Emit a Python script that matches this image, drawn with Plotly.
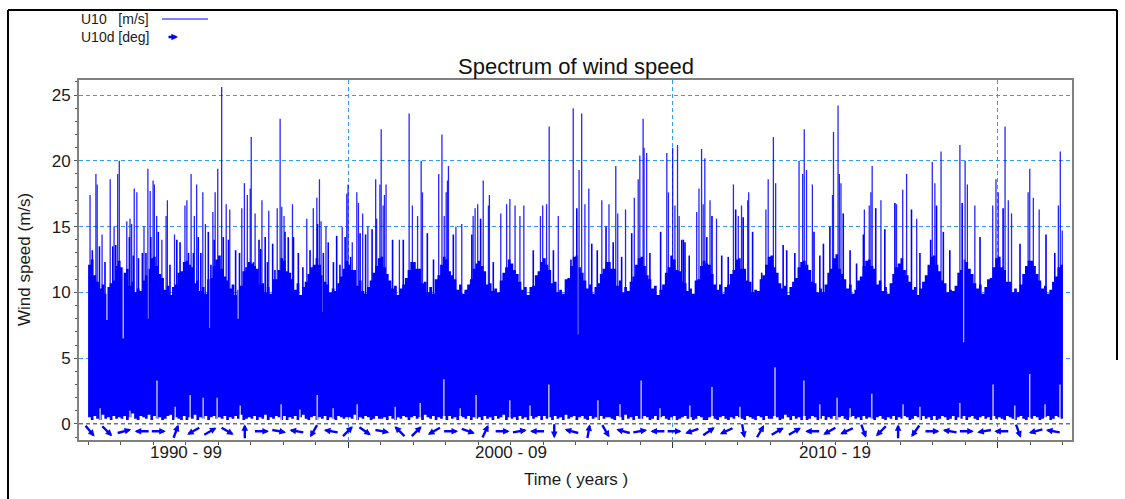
import numpy as np
import plotly.graph_objects as go

# ---------------- data ----------------
years = list(range(1992, 2022))

# upper level of the dense hourly U10 band, per month (Jan..Dec), m/s
u10_band_top = [
    [12.1, 12.5, 11.3, 10.8, 10.3, 10.6, 9.9, 10.4, 10.7, 10.9, 12.0, 12.4],  # 1992
    [11.9, 11.5, 11.8, 10.5, 10.8, 10.0, 10.3, 10.1, 10.9, 11.3, 11.8, 12.6],  # 1993
    [12.7, 12.0, 11.4, 11.1, 10.2, 10.5, 9.8, 10.4, 10.6, 11.5, 11.6, 12.3],   # 1994
    [12.4, 12.1, 11.9, 10.7, 10.9, 10.1, 10.4, 9.9, 11.0, 11.1, 12.0, 12.5],   # 1995
    [12.8, 11.8, 11.2, 10.9, 10.3, 10.6, 9.8, 10.2, 10.5, 11.6, 11.9, 12.3],   # 1996
    [12.2, 12.0, 11.8, 10.6, 10.7, 10.0, 10.4, 9.9, 11.0, 11.0, 11.7, 12.6],   # 1997
    [12.4, 11.6, 11.5, 11.0, 10.2, 10.7, 9.8, 10.4, 10.8, 11.4, 11.9, 12.1],   # 1998
    [12.6, 12.1, 11.3, 10.8, 10.6, 10.0, 10.3, 10.1, 10.7, 11.2, 11.8, 12.4],  # 1999
    [12.1, 11.7, 11.7, 10.5, 10.9, 10.1, 9.9, 10.4, 10.9, 11.5, 12.0, 12.6],   # 2000
    [12.7, 11.9, 11.4, 10.9, 10.3, 10.5, 9.8, 10.3, 10.6, 11.1, 11.7, 12.3],   # 2001
    [12.3, 11.8, 11.8, 10.7, 10.8, 10.0, 10.4, 9.9, 11.0, 11.3, 12.1, 12.7],   # 2002
    [12.5, 11.6, 11.3, 11.0, 10.2, 10.6, 9.9, 10.2, 10.6, 11.0, 11.8, 12.2],   # 2003
    [12.4, 12.0, 11.6, 10.6, 10.7, 10.1, 10.3, 10.0, 10.9, 11.5, 11.9, 12.5],  # 2004
    [12.2, 11.7, 11.4, 10.8, 10.2, 10.4, 9.8, 10.4, 10.5, 11.3, 11.6, 12.3],   # 2005
    [12.6, 12.1, 11.7, 10.7, 10.8, 10.0, 10.2, 9.9, 11.0, 11.1, 12.0, 12.7],   # 2006
    [12.8, 11.9, 11.5, 10.9, 10.3, 10.6, 9.9, 10.4, 10.7, 11.4, 11.8, 12.3],   # 2007
    [12.3, 11.8, 11.8, 10.5, 10.9, 10.0, 10.4, 10.1, 10.8, 11.2, 12.1, 12.6],  # 2008
    [12.7, 12.0, 11.3, 11.0, 10.3, 10.5, 9.8, 10.2, 10.6, 11.5, 11.9, 12.8],   # 2009
    [12.5, 11.7, 11.6, 10.8, 10.7, 10.1, 10.3, 9.9, 10.9, 11.0, 12.0, 12.4],   # 2010
    [12.2, 12.1, 11.4, 10.6, 10.2, 10.6, 9.9, 10.4, 10.6, 11.4, 11.7, 12.5],   # 2011
    [12.6, 11.8, 11.8, 10.9, 10.8, 10.0, 10.2, 10.1, 11.0, 11.3, 12.1, 12.7],  # 2012
    [12.8, 11.9, 11.5, 10.7, 10.3, 10.5, 9.8, 10.4, 10.8, 11.1, 11.9, 12.3],   # 2013
    [12.4, 12.1, 11.7, 10.8, 10.7, 10.0, 10.3, 10.0, 10.6, 11.5, 11.8, 12.6],  # 2014
    [12.9, 11.8, 11.4, 11.0, 10.3, 10.6, 9.9, 10.2, 10.9, 11.2, 12.0, 12.4],   # 2015
    [12.5, 12.0, 11.8, 10.6, 10.9, 10.1, 10.4, 9.9, 10.7, 11.4, 11.9, 12.2],   # 2016
    [12.6, 11.7, 11.3, 10.8, 10.2, 10.4, 9.8, 10.3, 10.8, 11.3, 12.1, 12.7],   # 2017
    [12.8, 12.1, 11.6, 10.9, 10.7, 10.0, 10.2, 10.1, 10.5, 11.5, 11.7, 12.5],  # 2018
    [12.3, 11.8, 11.4, 10.7, 10.3, 10.6, 9.9, 10.4, 11.0, 11.1, 11.9, 12.6],   # 2019
    [12.7, 11.9, 11.7, 10.8, 10.8, 10.0, 10.3, 10.0, 10.6, 11.4, 12.0, 12.4],  # 2020
    [12.4, 12.0, 11.4, 10.9, 10.3, 10.5, 9.9, 10.2, 10.8, 11.2, 11.9, 12.1],   # 2021
]

# lower level of the band (calmest hours), per month, m/s
u10_band_low = [
    [0.5, 0.3, 0.6, 0.4, 0.3, 0.7, 0.4, 0.5, 0.3, 0.6, 0.4, 0.5],
    [0.4, 0.6, 0.3, 0.5, 0.8, 0.4, 0.3, 0.6, 0.5, 0.4, 0.7, 0.3],
    [0.6, 0.4, 0.5, 0.3, 0.4, 0.6, 0.7, 0.3, 0.5, 0.4, 0.3, 0.6],
    [0.3, 0.5, 0.4, 0.7, 0.3, 0.5, 0.4, 0.6, 0.3, 0.5, 0.6, 0.4],
    [0.5, 0.4, 0.6, 0.3, 0.5, 0.4, 0.6, 0.4, 0.7, 0.3, 0.4, 0.5],
    [0.4, 0.6, 0.3, 0.5, 0.4, 0.7, 0.3, 0.5, 0.4, 0.6, 0.5, 0.3],
    [0.6, 0.3, 0.5, 0.4, 0.6, 0.3, 0.5, 0.7, 0.4, 0.3, 0.5, 0.6],
    [0.3, 0.5, 0.4, 0.6, 0.3, 0.5, 0.4, 0.3, 0.6, 0.5, 0.4, 0.5],
    [0.5, 0.4, 0.7, 0.3, 0.5, 0.4, 0.6, 0.5, 0.3, 0.4, 0.6, 0.4],
    [0.4, 0.5, 0.3, 0.6, 0.4, 0.3, 0.5, 0.4, 0.6, 0.5, 0.3, 0.5],
    [0.6, 0.4, 0.5, 0.3, 0.7, 0.5, 0.4, 0.6, 0.3, 0.5, 0.4, 0.6],
    [0.3, 0.6, 0.4, 0.5, 0.3, 0.6, 0.5, 0.4, 0.6, 0.3, 0.5, 0.4],
    [0.5, 0.3, 0.6, 0.4, 0.5, 0.3, 0.6, 0.4, 0.5, 0.7, 0.3, 0.5],
    [0.4, 0.5, 0.3, 0.6, 0.4, 0.5, 0.3, 0.6, 0.4, 0.5, 0.6, 0.3],
    [0.6, 0.4, 0.5, 0.3, 0.6, 0.4, 0.5, 0.3, 0.7, 0.4, 0.5, 0.6],
    [0.3, 0.5, 0.6, 0.4, 0.3, 0.6, 0.4, 0.5, 0.3, 0.6, 0.4, 0.5],
    [0.5, 0.4, 0.3, 0.6, 0.5, 0.3, 0.7, 0.4, 0.5, 0.3, 0.6, 0.4],
    [0.4, 0.6, 0.5, 0.3, 0.4, 0.6, 0.3, 0.5, 0.6, 0.4, 0.3, 0.5],
    [0.6, 0.3, 0.4, 0.5, 0.6, 0.4, 0.5, 0.3, 0.4, 0.6, 0.5, 0.3],
    [0.3, 0.5, 0.6, 0.4, 0.3, 0.5, 0.6, 0.4, 0.3, 0.5, 0.4, 0.6],
    [0.5, 0.4, 0.3, 0.6, 0.5, 0.4, 0.3, 0.6, 0.5, 0.3, 0.6, 0.4],
    [0.4, 0.6, 0.5, 0.3, 0.4, 0.7, 0.5, 0.3, 0.6, 0.4, 0.5, 0.3],
    [0.6, 0.3, 0.4, 0.6, 0.5, 0.3, 0.4, 0.6, 0.3, 0.5, 0.4, 0.6],
    [0.3, 0.5, 0.6, 0.4, 0.3, 0.5, 0.6, 0.4, 0.5, 0.3, 0.6, 0.4],
    [0.5, 0.4, 0.3, 0.5, 0.6, 0.4, 0.3, 0.5, 0.4, 0.6, 0.3, 0.5],
    [0.4, 0.6, 0.5, 0.3, 0.4, 0.6, 0.5, 0.3, 0.6, 0.4, 0.5, 0.3],
    [0.6, 0.3, 0.4, 0.6, 0.5, 0.3, 0.4, 0.6, 0.3, 0.5, 0.4, 0.6],
    [0.3, 0.5, 0.6, 0.4, 0.3, 0.5, 0.6, 0.4, 0.5, 0.3, 0.6, 0.4],
    [0.5, 0.4, 0.3, 0.6, 0.5, 0.4, 0.3, 0.5, 0.6, 0.4, 0.3, 0.5],
    [0.4, 0.6, 0.5, 0.3, 0.4, 0.5, 0.6, 0.3, 0.4, 0.6, 0.5, 0.4],
]

# individual storm peaks (decimal year, m/s)
u10_peak_time = [
    1992.06, 1992.24, 1992.28, 1992.43, 1992.68, 1992.80, 1992.91, 1992.96,
    1993.19, 1993.29, 1993.34, 1993.42, 1993.50, 1993.72, 1993.84, 1993.91,
    1994.00, 1994.04, 1994.11, 1994.27, 1994.40, 1994.44, 1994.66, 1994.98,
    1995.04, 1995.17, 1995.27, 1995.34, 1995.53, 1995.61, 1995.84, 1995.91,
    1995.99, 1996.11, 1996.25, 1996.36, 1996.73, 1996.81, 1996.90, 1996.99,
    1997.02, 1997.14, 1997.35, 1997.56, 1997.82, 1997.91, 1997.96, 1998.03,
    1998.29, 1998.73, 1998.93, 1999.04, 1999.12, 1999.17, 1999.32, 1999.82,
    1999.96, 2000.00, 2000.13, 2000.27, 2000.32, 2000.45, 2000.61, 2000.85,
    2000.88, 2000.98, 2001.02, 2001.08, 2001.12, 2001.17, 2001.58, 2001.88,
    2001.98, 2002.14, 2002.25, 2002.29, 2002.79, 2002.89, 2002.96, 2003.02,
    2003.06, 2003.09, 2003.32, 2003.50, 2003.85, 2003.91, 2003.99, 2004.16,
    2004.32, 2004.35, 2004.70, 2004.88, 2004.98, 2005.14, 2005.29, 2005.41,
    2005.92, 2005.99, 2006.11, 2006.19, 2006.47, 2006.93, 2007.11, 2007.19,
    2007.29, 2007.41, 2007.81, 2008.03, 2008.24, 2008.30, 2008.54, 2008.81,
    2008.93, 2008.98, 2009.08, 2009.11, 2009.19, 2009.81, 2009.86, 2009.99,
    2010.06, 2010.14, 2010.19, 2010.73, 2010.80, 2010.88, 2010.93, 2010.98,
    2011.14, 2011.34, 2011.86, 2012.01, 2012.11, 2012.30, 2012.33, 2012.86,
    2012.93, 2013.09, 2013.16, 2013.88, 2013.99, 2014.04, 2014.11, 2014.29,
    2014.91, 2014.94, 2015.08, 2015.12, 2015.17, 2015.89, 2016.04, 2016.09,
    2016.13, 2016.40, 2016.88, 2017.07, 2017.19, 2017.50, 2017.98, 2018.06,
    2018.25, 2018.83, 2018.99, 2019.06, 2019.29, 2019.84, 2019.94, 2020.01,
    2020.22, 2020.32, 2020.42, 2020.93, 2020.98, 2021.09, 2021.27, 2021.86,
    2021.92, 2021.98,
]
u10_peak_value = [
    17.4, 19.0, 18.2, 14.4, 18.6, 15.0, 19.0, 20.0,
    15.4, 15.6, 15.2, 17.9, 17.6, 15.0, 19.4, 17.7,
    18.5, 18.2, 15.8, 14.0, 15.8, 17.0, 14.4, 16.6,
    17.0, 19.0, 15.8, 18.2, 17.6, 15.2, 16.1, 17.6,
    19.4, 25.6, 16.7, 16.3, 16.4, 18.3, 17.4, 17.9,
    21.8, 16.0, 17.0, 16.2, 16.4, 23.2, 16.5, 15.8,
    16.7, 15.6, 16.4, 17.2, 18.6, 15.4, 15.0, 15.0,
    17.5, 18.2, 13.8, 17.6, 16.8, 16.0, 15.0, 18.6,
    15.6, 18.2, 22.4, 16.6, 17.4, 18.2, 14.0, 23.6,
    16.6, 15.8, 20.0, 17.6, 19.0, 22.0, 15.8, 17.6,
    18.5, 19.6, 15.0, 15.2, 15.8, 16.4, 16.7, 18.5,
    16.6, 17.4, 16.0, 16.7, 17.1, 16.6, 15.8, 16.6,
    15.8, 16.6, 16.7, 22.6, 15.8, 24.0, 19.3, 23.6,
    16.7, 17.9, 17.0, 16.7, 19.6, 16.0, 16.3, 17.2,
    18.6, 20.4, 23.2, 21.0, 20.6, 20.6, 17.6, 21.0,
    16.6, 21.2, 15.8, 16.1, 17.9, 20.9, 16.7, 20.2,
    17.0, 15.6, 18.2, 15.8, 16.6, 17.0, 17.6, 16.3,
    18.6, 21.8, 18.3, 20.0, 19.0, 22.4, 19.3, 18.2,
    17.4, 22.2, 24.2, 19.0, 18.3, 16.3, 16.6, 17.6,
    19.6, 17.0, 16.7, 17.8, 19.0, 15.6, 19.9, 18.3,
    20.7, 21.2, 20.0, 18.2, 16.6, 16.6, 18.6, 17.6,
    22.6, 17.0, 16.0, 17.6, 19.4, 17.2, 16.3, 16.6,
    20.7, 14.7,
]

# moderate gusts standing just above the dense band (decimal year, m/s)
u10_gust_time = [
    1992.13, 1992.35, 1992.52, 1992.76, 1992.85, 1993.27, 1993.39, 1993.55,
    1993.67, 1993.78, 1993.93, 1994.16, 1994.52, 1994.73, 1994.83, 1995.09,
    1995.24, 1995.39, 1995.47, 1995.70, 1995.78, 1995.88, 1996.16, 1996.32,
    1996.54, 1996.66, 1996.93, 1997.09, 1997.26, 1997.31, 1997.45, 1997.52,
    1997.68, 1997.75, 1998.06, 1998.16, 1998.32, 1998.47, 1998.61, 1998.83,
    1999.06, 1999.24, 1999.39, 1999.55, 1999.65, 1999.75, 1999.91, 2000.08,
    2000.37, 2000.54, 2000.74, 2001.37, 2001.70, 2002.44, 2002.63, 2003.24,
    2003.81, 2004.08, 2004.47, 2005.70, 2006.32, 2006.86, 2007.04, 2007.50,
    2007.67, 2007.94, 2008.16, 2008.42, 2008.73, 2009.29, 2009.62, 2010.32,
    2010.27, 2010.37, 2010.50, 2011.04, 2011.20, 2011.50, 2011.70, 2011.93,
    2012.16, 2012.45, 2012.73, 2013.39, 2013.50, 2013.75, 2014.34, 2014.52,
    2014.63, 2014.83, 2015.24, 2015.45, 2015.65, 2015.86, 2016.24, 2016.52,
    2016.83, 2017.34, 2017.60, 2017.93, 2018.11, 2018.32, 2018.52, 2018.90,
    2019.45, 2020.16, 2020.68, 2021.48, 2021.75,
]
u10_gust_value = [
    13.2, 13.5, 12.3, 13.5, 13.6, 14.2, 12.8, 12.6,
    13.0, 13.0, 14.2, 14.6, 12.1, 14.0, 13.8, 13.0,
    13.0, 14.2, 13.0, 14.6, 12.1, 14.0, 14.2, 14.0,
    13.2, 13.0, 12.2, 12.3, 14.0, 13.3, 14.2, 12.3,
    13.7, 11.7, 14.6, 14.2, 14.2, 13.0, 11.9, 13.2,
    15.2, 13.0, 13.8, 12.3, 14.3, 12.1, 14.2, 12.7,
    14.5, 14.4, 14.8, 14.0, 14.0, 14.5, 12.5, 14.4,
    14.4, 15.6, 12.3, 13.2, 13.2, 12.5, 16.4, 13.7,
    13.2, 15.0, 13.8, 12.7, 14.5, 13.0, 14.6, 14.0,
    14.0, 13.8, 12.8, 14.2, 15.8, 12.8, 12.7, 16.3,
    15.7, 14.6, 11.5, 13.6, 13.2, 13.0, 14.6, 12.8,
    13.7, 15.0, 16.0, 13.2, 12.2, 14.4, 16.4, 14.8,
    16.8, 16.3, 13.0, 14.0, 16.6, 14.6, 13.2, 16.8,
    14.2, 16.4, 13.7, 14.4, 13.0,
]

# short lulls cutting down into the band from above (decimal year, m/s)
u10_lull_time = [1992.58, 1993.08, 1993.85, 1995.75, 1996.62, 1999.23,
                 2007.08, 2018.95]
u10_lull_value = [7.9, 6.5, 8.0, 7.3, 8.0, 8.5, 6.8, 6.2]

# calm dips near zero (decimal year, m/s)
u10_calm_time = [
    1992.37, 1993.29, 1994.12, 1994.68, 1995.14, 1995.54, 1995.97, 1996.68,
    1997.94, 1998.52, 1999.05, 1999.54, 2000.28, 2001.45, 2002.22, 2002.95,
    2003.45, 2003.94, 2004.98, 2005.60, 2006.18, 2007.69, 2008.37, 2009.02,
    2009.60, 2010.52, 2011.20, 2012.06, 2013.14, 2014.03, 2014.52, 2015.05,
    2015.45, 2016.12, 2017.08, 2017.60, 2018.83, 2019.85, 2020.52, 2020.98,
    2021.45, 2021.91,
]
u10_calm_value = [
    1.2, 1.0, 3.3, 1.3, 2.2, 2.0, 2.0, 1.4,
    1.5, 1.1, 2.2, 1.2, 1.5, 1.3, 1.6, 3.4,
    1.2, 2.2, 1.8, 1.4, 3.0, 1.8, 1.5, 3.3,
    1.2, 1.4, 2.8, 1.3, 4.3, 3.3, 1.5, 2.0,
    1.2, 2.3, 1.5, 1.3, 1.6, 3.0, 1.4, 3.8,
    1.5, 3.0,
]

# U10d: direction arrows along the bottom (compass degrees the arrow points to)
u10d_deg = [
    140, 135, 75, 270, 90, 20, 240, 60, 120, 0,
    90, 100, 280, 210, 280, 45, 125, 100, 315, 45,
    240, 90, 110, 25, 90, 80, 270, 180, 285, 10,
    150, 285, 80, 270, 90, 250, 55, 245, 170, 30,
    60, 60, 270, 240, 245, 160, 225, 0, 215, 90,
    280, 90, 260, 270, 160, 255, 280,
]
u10d_first, u10d_last = 1992.06, 2021.69

decade_ticks = [2000, 2010, 2020]
decade_labels = ["1990 - 99", "2000 - 09", "2010 - 19"]
decade_label_pos = [1995, 2005, 2015]

# ---------------- figure ----------------
BLUE = "#0000ff"
GRID = "#3399ff"
FONT = "Liberation Sans, Arial, sans-serif"

fig = go.Figure()

# dense band as a stepped polygon (monthly steps)
ux, uy, lx, ly = [], [], [], []
for yi, yr in enumerate(years):
    for m in range(12):
        x0 = yr + m / 12.0
        x1 = yr + (m + 1) / 12.0
        ux += [x0, x1]
        uy += [u10_band_top[yi][m]] * 2
        lx += [x0, x1]
        ly += [u10_band_low[yi][m]] * 2
px = ux + lx[::-1] + [ux[0]]
py = uy + ly[::-1] + [uy[0]]
fig.add_trace(go.Scatter(x=px, y=py, mode="lines", fill="toself",
                         fillcolor=BLUE, line=dict(width=0, color=BLUE),
                         hoverinfo="skip", showlegend=False))


def spikes(times, values, base):
    xs, ys = [], []
    for t, v in zip(times, values):
        xs += [t, t, None]
        ys += [base, v, None]
    return xs, ys


lx_, ly_ = spikes(u10_lull_time, u10_lull_value, 13.0)
fig.add_trace(go.Scatter(x=lx_, y=ly_, mode="lines",
                         line=dict(width=1.2, color="rgba(255,255,255,0.85)"),
                         hoverinfo="skip", showlegend=False))

gx, gy = spikes(u10_gust_time, u10_gust_value, 5.0)
fig.add_trace(go.Scatter(x=gx, y=gy, mode="lines",
                         line=dict(width=1.6, color=BLUE),
                         hoverinfo="skip", showlegend=False))

sx, sy = spikes(u10_peak_time, u10_peak_value, 5.0)
fig.add_trace(go.Scatter(x=sx, y=sy, mode="lines",
                         line=dict(width=1.3, color="rgba(0,0,255,0.85)"),
                         hoverinfo="skip", showlegend=False))

cx, cy = spikes(u10_calm_time, u10_calm_value, 0.1)
fig.add_trace(go.Scatter(x=cx, y=cy, mode="lines",
                         line=dict(width=1.2, color="rgba(255,255,255,0.9)"),
                         hoverinfo="skip", showlegend=False))

# direction arrows
arrow_times = np.linspace(u10d_first, u10d_last, len(u10d_deg))
L = 14.0
annotations = []
for t, d in zip(arrow_times, u10d_deg):
    r = np.deg2rad(d)
    dx, dy = np.sin(r), np.cos(r)
    annotations.append(dict(
        x=float(t), y=-0.55, xref="x", yref="y", text="",
        font=dict(size=1), borderpad=0, borderwidth=0,
        showarrow=True, arrowhead=2, arrowsize=0.55, arrowwidth=2.4,
        arrowcolor=BLUE, standoff=0, startstandoff=0,
        ax=float(-L * dx), ay=float(L * dy),
        xshift=float(L / 2 * dx), yshift=float(L / 2 * dy)))

# decade labels
for p, lab in zip(decade_label_pos, decade_labels):
    annotations.append(dict(x=p, y=-0.036, xref="x", yref="paper", text=lab,
                            showarrow=False, yanchor="middle",
                            font=dict(family=FONT, size=17, color="#1a1a1a")))

# axis titles and main title
annotations += [
    dict(x=0.5, y=(440 - 479) / 360, xref="paper", yref="paper",
         text="Time ( years )", showarrow=False, yanchor="middle",
         font=dict(family=FONT, size=17, color="#1a1a1a")),
    dict(x=(24 - 79) / 993, y=(440 - 260) / 360, xref="paper", yref="paper",
         text="Wind speed (m/s)", showarrow=False, textangle=-90,
         xanchor="center", yanchor="middle",
         font=dict(family=FONT, size=17, color="#1a1a1a")),
    dict(x=0.5, y=(440 - 67) / 360, xref="paper", yref="paper",
         text="Spectrum of wind speed", showarrow=False, yanchor="middle",
         font=dict(family=FONT, size=22, color="#111111")),
    # legend texts
    dict(x=0, y=(440 - 19) / 360, xref="paper", yref="paper",
         text="U10\u00a0\u00a0\u00a0[m/s]", showarrow=False, xanchor="left",
         yanchor="middle", font=dict(family=FONT, size=14, color="#1a1a1a")),
    dict(x=0, y=(440 - 37) / 360, xref="paper", yref="paper",
         text="U10d [deg]", showarrow=False, xanchor="left",
         yanchor="middle", font=dict(family=FONT, size=14, color="#1a1a1a")),
    dict(x=(178 - 79) / 993, y=(440 - 37) / 360, xref="paper", yref="paper",
         text="", font=dict(size=1), borderpad=0,
         showarrow=True, arrowhead=2, arrowsize=0.55, arrowwidth=2.4,
         arrowcolor=BLUE, ax=-10, ay=0, standoff=0, startstandoff=0),
]

shapes = [
    # zero line (dashed)
    dict(type="line", xref="paper", yref="y", x0=0, x1=1, y0=0, y1=0,
         line=dict(color="#51657f", width=1, dash="4px,3px"), layer="above"),
    # legend line
    dict(type="line", xref="paper", yref="paper",
         x0=(162 - 79) / 993, x1=(208 - 79) / 993,
         y0=(440 - 19) / 360, y1=(440 - 19) / 360,
         line=dict(color=BLUE, width=1.2)),
    # outer black frame
    dict(type="line", xref="paper", yref="paper",
         x0=(8 - 79) / 993, x1=(1117 - 79) / 993,
         y0=(440 - 10) / 360, y1=(440 - 10) / 360,
         line=dict(color="black", width=2)),
    dict(type="line", xref="paper", yref="paper",
         x0=(8 - 79) / 993, x1=(8 - 79) / 993,
         y0=(440 - 10) / 360, y1=(440 - 510) / 360,
         line=dict(color="black", width=2)),
    dict(type="line", xref="paper", yref="paper",
         x0=(1117 - 79) / 993, x1=(1117 - 79) / 993,
         y0=(440 - 10) / 360, y1=(440 - 360) / 360,
         line=dict(color="black", width=2)),
]

fig.update_layout(
    width=1125, height=499,
    margin=dict(l=79, r=53, t=80, b=59),
    paper_bgcolor="white", plot_bgcolor="white",
    showlegend=False,
    annotations=annotations, shapes=shapes,
    font=dict(family=FONT, size=17, color="#1a1a1a"),
    xaxis=dict(range=[1991.72, 2022.28], tickmode="array",
               tickvals=decade_ticks, ticktext=["", "", ""],
               ticks="outside", ticklen=6, tickwidth=1, tickcolor="#333",
               showgrid=True, gridcolor=GRID, griddash="4px,3px", gridwidth=1,
               minor=dict(tickmode="linear", tick0=1992, dtick=1,
                          ticks="outside", ticklen=3, tickcolor="#555",
                          showgrid=False),
               showline=True, linecolor="#808080", linewidth=2, mirror=True,
               zeroline=False),
    yaxis=dict(range=[-1.22, 26.14], tickmode="array",
               tickvals=[0, 5, 10, 15, 20, 25],
               ticks="outside", ticklen=3, tickcolor="#555",
               tickfont=dict(family=FONT, size=17, color="#1a1a1a"),
               showgrid=True, gridcolor=GRID, griddash="4px,3px", gridwidth=1,
               minor=dict(tickmode="linear", tick0=0, dtick=1,
                          ticks="outside", ticklen=2, tickcolor="#555",
                          showgrid=False),
               showline=True, linecolor="#808080", linewidth=2, mirror=True,
               zeroline=False),
)

fig.write_html("out.html")
